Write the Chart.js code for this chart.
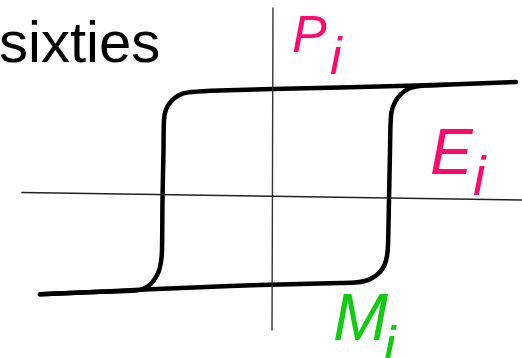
<!DOCTYPE html>
<html>
<head>
<meta charset="utf-8">
<script src="https://cdn.jsdelivr.net/npm/chart.js@4"></script>
<style>
  html, body { margin: 0; padding: 0; background: #fff; }
  #wrap { width: 522px; height: 358px; }
</style>
</head>
<body>
<div id="wrap"><canvas id="myChart"></canvas></div>
<script>
// field E (x) and polarisation P (y), origin where the axes cross
const upperE = [244, 178, 145, 68, 0, -52, -80, -90.7, -99.8, -105.9, -108, -108.5, -109.5, -110, -111, -113.5, -118, -123, -129, -137, -172, -232]
const upperP = [114, 111.5, 110.5, 108.5, 107, 105.5, 104, 101.9, 95.8, 86.7, 76, 46, -4, -54, -66, -76, -84, -89.5, -93, -94.5, -95.8, -98.3]

const lowerE = [-232, -172, -122, -72, -12, 28, 68, 83, 93, 101, 108, 112.5, 115, 116, 117, 118, 118.5, 119.5, 123, 129, 136, 144, 153, 175]
const lowerP = [-98.3, -95.8, -93.3, -91.2, -89, -88, -87, -86.5, -85, -81.5, -76, -69, -60, -49, -4, 46, 71, 84, 94, 102, 107, 109.5, 110.5, 111.2]

const axisE = { x: [-250, 250], y: [3.5, -4] }
const axisP = { x: [1, 0], y: [188, -134] }

const toPoints = (xs, ys) => xs.map((x, i) => ({ x: x, y: ys[i] }))

const ctx = document.getElementById('myChart')

// labels drawn at data positions
const labelPlugin = {
    id: 'labels',
    afterDatasetsDraw(chart) {
        const c = chart.ctx
        const sx = chart.scales.x
        const sy = chart.scales.y
        const put = (text, e, p, font, color) => {
            c.font = font
            c.fillStyle = color
            c.textBaseline = 'alphabetic'
            c.fillText(text, sx.getPixelForValue(e), sy.getPixelForValue(p))
        }
        c.save()
        put('sixties', -273, 134, '58px "Liberation Sans", Arial, sans-serif', '#000')
        put('P', 20, 144, 'italic 52px "Liberation Sans", Arial, sans-serif', '#ff0a6c')
        put('i', 58, 122, 'italic 52px "Liberation Sans", Arial, sans-serif', '#ff0a6c')
        put('E', 158, 22, 'italic 64px "Liberation Sans", Arial, sans-serif', '#ff0a6c')
        put('i', 201, 1, 'italic 56px "Liberation Sans", Arial, sans-serif', '#ff0a6c')
        put('M', 61, -144, 'italic 66px "Liberation Sans", Arial, sans-serif', '#11cc11')
        put('i', 111, -169, 'italic 56px "Liberation Sans", Arial, sans-serif', '#11cc11')
        c.restore()
    }
}

new Chart(ctx, {
    type: 'scatter',
    data: {
        datasets: [
            { data: toPoints(axisE.x, axisE.y), borderColor: '#222', borderWidth: 1.6 },
            { data: toPoints(axisP.x, axisP.y), borderColor: '#333', borderWidth: 1.4 },
            { data: toPoints(upperE, upperP), borderColor: '#000', borderWidth: 4.5, tension: 0.25 },
            { data: toPoints(lowerE, lowerP), borderColor: '#000', borderWidth: 4.5, tension: 0.25 }
        ]
    },
    options: {
        responsive: true,
        maintainAspectRatio: false,
        animation: false,
        showLine: true,
        elements: { point: { radius: 0, hoverRadius: 0 }, line: { borderCapStyle: 'round', borderJoinStyle: 'round' } },
        layout: { padding: 0 },
        plugins: { legend: { display: false }, tooltip: { enabled: false } },
        scales: {
            x: { type: 'linear', min: -272, max: 250, display: false },
            y: { type: 'linear', min: -162, max: 196, display: false }
        }
    },
    plugins: [labelPlugin]
})
</script>
</body>
</html>
